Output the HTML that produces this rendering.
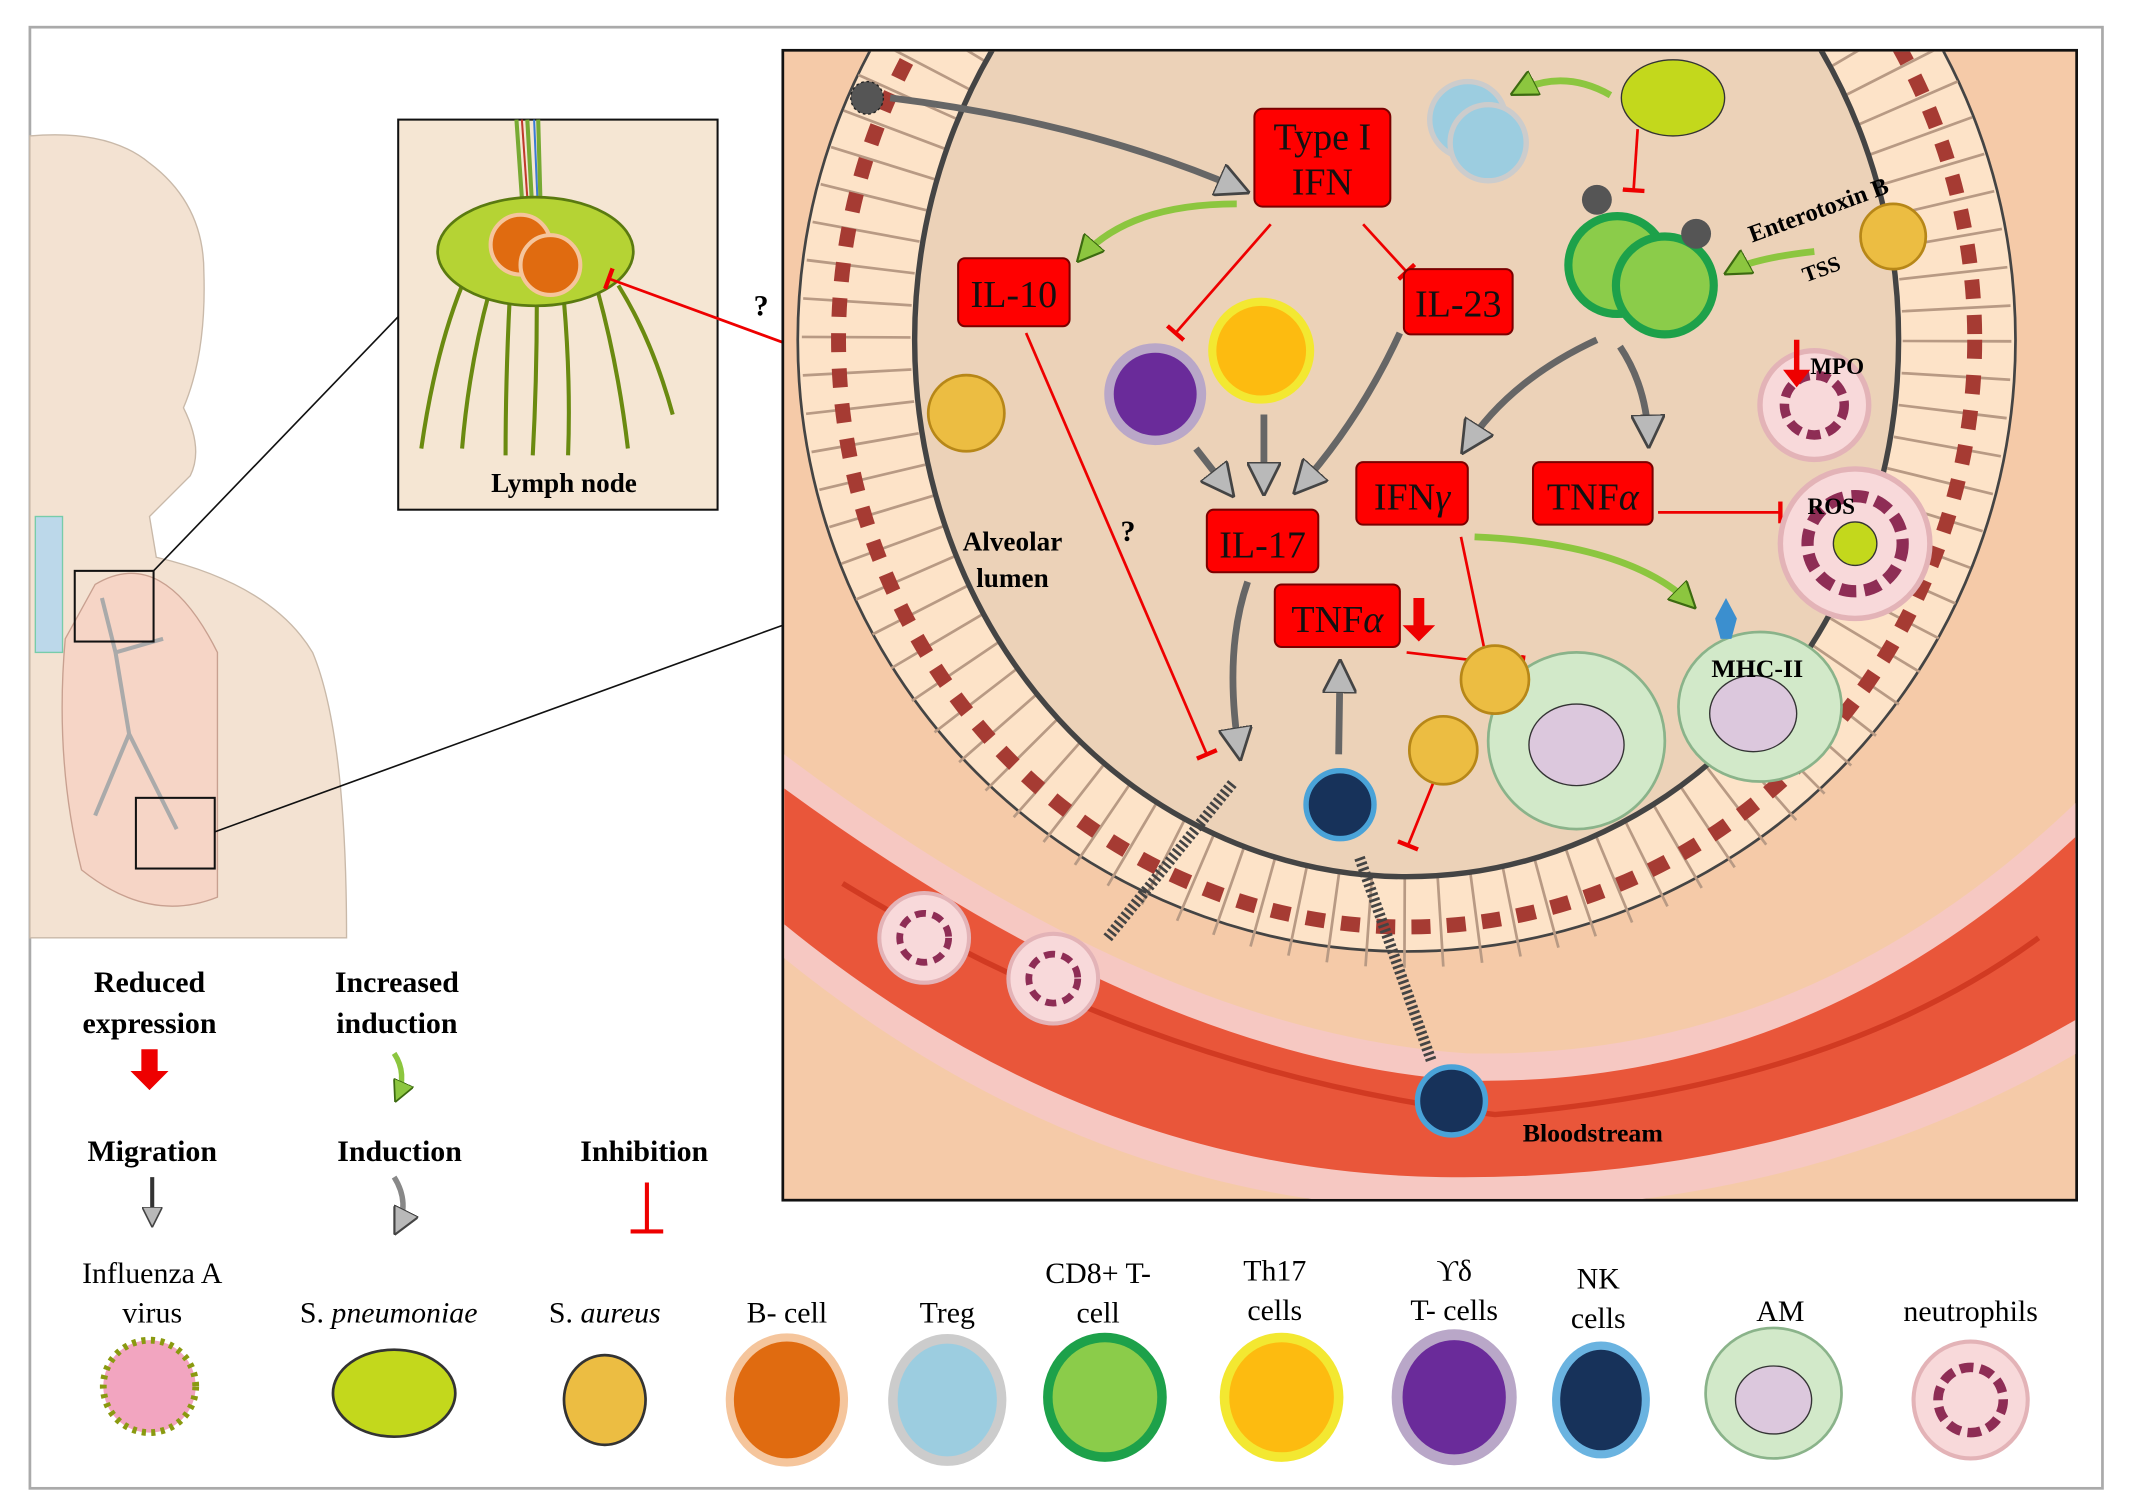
<!DOCTYPE html>
<html><head><meta charset="utf-8"><style>
html,body{margin:0;padding:0;background:#fff;}
svg{display:block;}
text{font-family:"Liberation Serif",serif;}
</style></head><body>
<svg width="2131" height="1506" viewBox="0 0 1568 1108" preserveAspectRatio="none" xmlns="http://www.w3.org/2000/svg">
<defs>
<clipPath id="pc"><rect x="577" y="38" width="950" height="844"/></clipPath>
<marker id="ag" viewBox="0 0 10 10" refX="8" refY="5" markerWidth="5" markerHeight="5" orient="auto"><path d="M0,0L10,5L0,10z" fill="#b9b9b9" stroke="#444" stroke-width="0.8"/></marker>
<marker id="agr" viewBox="0 0 10 10" refX="8" refY="5" markerWidth="4" markerHeight="4" orient="auto"><path d="M0,0L10,5L0,10z" fill="#8cc63f" stroke="#3c6a10" stroke-width="0.8"/></marker>
<marker id="inh" viewBox="0 0 10 10" refX="5" refY="5" markerWidth="8" markerHeight="8" orient="auto"><path d="M5,0L5,10" stroke="#e00" stroke-width="2"/></marker>
</defs>
<rect x="22" y="20" width="1525" height="1075" fill="#fff" stroke="#aaa" stroke-width="2"/>

<!-- human silhouette -->
<path d="M22,100 Q80,95 110,120 Q150,150 150,200 Q152,260 135,300 Q150,330 140,350 Q120,370 110,380 L115,410 Q200,430 230,480 Q255,540 255,690 L22,690 Z" fill="#f3e2d2" stroke="#c9b9a9"/>
<path d="M48,470 Q40,560 60,640 Q110,680 160,660 L160,480 Q120,400 70,430 Z" fill="#f6d5c6" stroke="#c8a090"/>
<rect x="26" y="380" width="20" height="100" fill="#bcd8ea" stroke="#7ca"/>
<path d="M75,440 L85,480 L95,540 M85,480 L120,470 M95,540 L130,610 M95,540 L70,600" stroke="#aaa" stroke-width="3" fill="none"/>
<rect x="55" y="420" width="58" height="52" fill="none" stroke="#111" stroke-width="1.5"/>
<rect x="100" y="587" width="58" height="52" fill="none" stroke="#111" stroke-width="1.5"/>
<line x1="113" y1="420" x2="293" y2="233" stroke="#111" stroke-width="1.2"/>
<line x1="158" y1="612" x2="576" y2="460" stroke="#111" stroke-width="1.2"/>

<!-- lymph node -->
<rect x="293" y="88" width="235" height="287" fill="#f5e6d3" stroke="#111" stroke-width="1.5"/>
<path d="M380,88 L385,160 M388,88 L392,160 M396,88 L398,160" stroke="#7a3" stroke-width="3"/>
<path d="M384,88 L389,160" stroke="#c0392b" stroke-width="1.5"/>
<path d="M393,88 L396,160" stroke="#3a7bd5" stroke-width="1.5"/>
<g stroke="#6a8a10" stroke-width="3" fill="none">
<path d="M340,210 Q320,260 310,330"/><path d="M360,215 Q345,270 340,330"/><path d="M375,220 Q372,280 372,335"/><path d="M395,222 Q395,280 392,335"/><path d="M415,222 Q420,280 418,335"/><path d="M440,215 Q455,270 462,330"/><path d="M455,210 Q480,250 495,305"/>
</g>
<ellipse cx="394" cy="185" rx="72" ry="40" fill="#b5d334" stroke="#5a7a10" stroke-width="2"/>
<circle cx="383" cy="180" r="22" fill="#e06b10" stroke="#f5c59c" stroke-width="3"/>
<circle cx="405" cy="195" r="22" fill="#e06b10" stroke="#f5c59c" stroke-width="3"/>
<text x="415" y="362" font-size="20" font-weight="bold" text-anchor="middle">Lymph node</text>
<text x="560" y="232" font-size="22" font-weight="bold" text-anchor="middle">?</text>
<line x1="680" y1="290" x2="448" y2="205" stroke="#e00" stroke-width="2" marker-end="url(#inh)"/>

<!-- main panel -->
<rect x="576" y="37" width="952" height="846" fill="#f5caa8" stroke="#111" stroke-width="2"/>
<g clip-path="url(#pc)">
<!-- bloodstream -->
<path d="M577,555 Q850,760 1080,775 Q1330,780 1528,590 L1528,775 Q1320,895 1060,890 Q800,885 577,705 Z" fill="#f6c8c2"/>
<path d="M577,580 Q850,780 1080,795 Q1330,800 1528,615 L1528,750 Q1320,870 1060,866 Q800,862 577,680 Z" fill="#e9563a"/>
<path d="M620,650 Q850,790 1100,820 Q1350,800 1500,690" stroke="#d13a22" stroke-width="4" fill="none"/>
<ellipse cx="1035" cy="250" rx="448" ry="450" fill="#fde3c8" stroke="#444" stroke-width="2"/>
<ellipse cx="1035" cy="250" rx="405" ry="422" fill="none" stroke="#b89a84" stroke-width="80" stroke-dasharray="2 24"/>
<ellipse cx="1035" cy="250" rx="418" ry="432" fill="none" stroke="#a63b33" stroke-width="11" stroke-dasharray="14 12"/>
<ellipse cx="1035" cy="250" rx="362" ry="395" fill="#ecd2b8" stroke="#444" stroke-width="4"/>
</g>

<!-- lumen labels -->
<text x="745" y="405" font-size="20" font-weight="bold" text-anchor="middle">Alveolar</text>
<text x="745" y="432" font-size="20" font-weight="bold" text-anchor="middle">lumen</text>
<text x="1172" y="840" font-size="19" font-weight="bold" text-anchor="middle">Bloodstream</text>
<text x="830" y="398" font-size="22" font-weight="bold" text-anchor="middle">?</text>

<!-- arrows grey -->
<g stroke="#666" stroke-width="5" fill="none" marker-end="url(#ag)">
<path d="M655,72 Q800,90 915,140"/>
<path d="M1175,250 Q1110,280 1078,330"/>
<path d="M1192,255 Q1212,285 1213,325"/>
<path d="M1030,245 Q1000,310 955,360"/>
<path d="M930,305 L930,360"/>
<path d="M880,330 L905,362"/>
<path d="M918,428 Q900,480 912,555"/>
<path d="M985,555 L986,490"/>
</g>
<g stroke="#8cc63f" stroke-width="5" fill="none" marker-end="url(#agr)">
<path d="M910,150 Q830,150 795,190"/>
<path d="M1185,70 Q1150,50 1115,68"/>
<path d="M1335,185 Q1290,190 1272,200"/>
<path d="M1085,395 Q1200,400 1245,445"/>
</g>
<!-- migration dashed -->
<g stroke="#444" stroke-width="8" fill="none" stroke-dasharray="2 2">
<path d="M815,690 L908,575"/>
<path d="M1053,780 L1000,630"/>
</g>
<!-- red inhibitions -->
<g stroke="#e00" stroke-width="2" fill="none" marker-end="url(#inh)">
<path d="M935,165 L865,245"/>
<path d="M1003,165 L1035,200"/>
<path d="M755,245 L888,555"/>
<path d="M1220,377 L1310,377"/>
<path d="M1075,395 L1100,515"/>
<path d="M1035,480 L1120,490"/>
<path d="M1055,575 L1036,622"/>
<path d="M1205,95 L1202,140"/>
</g>

<!-- cells -->
<g stroke="#333" stroke-width="1">
<circle cx="1080" cy="88" r="28" fill="#9ccde0" stroke="#ccc" stroke-width="4"/>
<circle cx="1095" cy="105" r="28" fill="#9ccde0" stroke="#ccc" stroke-width="4"/>
<ellipse cx="1231" cy="72" rx="38" ry="28" fill="#c3d81c"/>
<circle cx="1190" cy="195" r="36" fill="#8bcc4a" stroke="#1da14a" stroke-width="6"/>
<circle cx="1225" cy="210" r="36" fill="#8bcc4a" stroke="#1da14a" stroke-width="6"/>
<circle cx="1393" cy="174" r="24" fill="#ecbd42" stroke="#b78718" stroke-width="2"/>
<circle cx="711" cy="304" r="28" fill="#ecbd42" stroke="#b78718" stroke-width="2"/>
<circle cx="850" cy="290" r="34" fill="#6a2b9a" stroke="#b9a7c8" stroke-width="7"/>
<circle cx="928" cy="258" r="36" fill="#fdbb10" stroke="#f3e831" stroke-width="6"/>
<circle cx="1335" cy="298" r="40" fill="#f8d9da" stroke="#e3b3b7" stroke-width="4"/>
<circle cx="1365" cy="400" r="55" fill="#f8d9da" stroke="#e3b3b7" stroke-width="4"/>
<circle cx="1365" cy="400" r="16" fill="#c3d81c"/>
<ellipse cx="1160" cy="545" rx="65" ry="65" fill="#d2e9c9" stroke="#8ab38a" stroke-width="2"/>
<ellipse cx="1160" cy="548" rx="35" ry="30" fill="#dcc8dd"/>
<ellipse cx="1295" cy="520" rx="60" ry="55" fill="#d2e9c9" stroke="#8ab38a" stroke-width="2"/>
<ellipse cx="1290" cy="525" rx="32" ry="28" fill="#dcc8dd"/>
<circle cx="1100" cy="500" r="25" fill="#ecbd42" stroke="#b78718" stroke-width="2"/>
<circle cx="1062" cy="552" r="25" fill="#ecbd42" stroke="#b78718" stroke-width="2"/>
<circle cx="986" cy="592" r="25" fill="#17325a" stroke="#4aa3d8" stroke-width="4"/>
<circle cx="1068" cy="810" r="25" fill="#17325a" stroke="#4aa3d8" stroke-width="4"/>
<circle cx="680" cy="690" r="33" fill="#f8d9da" stroke="#e3b3b7" stroke-width="3"/>
<circle cx="775" cy="720" r="33" fill="#f8d9da" stroke="#e3b3b7" stroke-width="3"/>
</g>
<g fill="#8e2d55">
<circle cx="1335" cy="298" r="22" fill="none" stroke="#8e2d55" stroke-width="7" stroke-dasharray="10 5"/>
<circle cx="1365" cy="400" r="35" fill="none" stroke="#8e2d55" stroke-width="9" stroke-dasharray="12 6"/>
<circle cx="680" cy="690" r="18" fill="none" stroke="#8e2d55" stroke-width="5" stroke-dasharray="8 5"/>
<circle cx="775" cy="720" r="18" fill="none" stroke="#8e2d55" stroke-width="5" stroke-dasharray="8 5"/>
</g>
<circle cx="638" cy="72" r="12" fill="#555" stroke="#222" stroke-dasharray="2 2"/>
<circle cx="1175" cy="147" r="11" fill="#555"/>
<circle cx="1248" cy="172" r="11" fill="#555"/>
<text x="1340" y="160" font-size="18" font-weight="bold" transform="rotate(-20 1340 160)" text-anchor="middle">Enterotoxin B</text>
<text x="1342" y="203" font-size="16" font-weight="bold" transform="rotate(-20 1342 203)" text-anchor="middle">TSS</text>
<path d="M1262,455 L1270,440 L1278,455 L1274,470 L1266,470 Z" fill="#3b8fcf"/>
<path d="M1320,250 L1320,272 L1312,272 L1322,285 L1332,272 L1324,272 L1324,250 Z" fill="#e00"/>
<path d="M1040,440 L1040,460 L1032,460 L1044,472 L1056,460 L1048,460 L1048,440 Z" fill="#e00"/>
<text x="1332" y="275" font-size="17" font-weight="bold">MPO</text>
<text x="1330" y="378" font-size="17" font-weight="bold">ROS</text>
<text x="1293" y="498" font-size="19" font-weight="bold" text-anchor="middle">MHC-II</text>

<!-- cytokine boxes -->
<g fill="#f00" stroke="#7a0000" stroke-width="1.5">
<rect x="923" y="80" width="100" height="72" rx="6"/>
<rect x="705" y="190" width="82" height="50" rx="5"/>
<rect x="1033" y="198" width="80" height="48" rx="5"/>
<rect x="998" y="340" width="82" height="46" rx="5"/>
<rect x="1128" y="340" width="88" height="46" rx="5"/>
<rect x="888" y="375" width="82" height="46" rx="5"/>
<rect x="938" y="430" width="92" height="46" rx="5"/>
</g>
<g font-size="28" fill="#111" text-anchor="middle">
<text x="973" y="110">Type I</text><text x="973" y="143">IFN</text>
<text x="746" y="226">IL-10</text>
<text x="1073" y="233">IL-23</text>
<text x="1039" y="375">IFN<tspan font-style="italic">γ</tspan></text>
<text x="1172" y="375">TNF<tspan font-style="italic">α</tspan></text>
<text x="929" y="410">IL-17</text>
<text x="984" y="465">TNF<tspan font-style="italic">α</tspan></text>
</g>

<!-- legend -->
<g font-size="22" font-weight="bold" text-anchor="middle">
<text x="110" y="730">Reduced</text><text x="110" y="760">expression</text>
<text x="292" y="730">Increased</text><text x="292" y="760">induction</text>
<text x="112" y="854">Migration</text>
<text x="294" y="854">Induction</text>
<text x="474" y="854">Inhibition</text>
</g>
<path d="M104,772 L104,788 L96,788 L110,802 L124,788 L116,788 L116,772 Z" fill="#e00"/>
<path d="M290,775 Q300,790 292,808" stroke="#8cc63f" stroke-width="4" fill="none" marker-end="url(#agr)"/>
<path d="M112,866 L112,900" stroke="#333" stroke-width="3" fill="none" marker-end="url(#ag)"/>
<path d="M290,866 Q302,885 292,905" stroke="#888" stroke-width="4" fill="none" marker-end="url(#ag)"/>
<path d="M476,870 L476,906 M464,906 L488,906" stroke="#e00" stroke-width="3"/>

<g font-size="22" text-anchor="middle">
<text x="112" y="944">Influenza A</text><text x="112" y="973">virus</text>
<text x="286" y="973" font-style="italic"><tspan font-style="normal">S.</tspan> pneumoniae</text>
<text x="445" y="973" font-style="italic"><tspan font-style="normal">S.</tspan> aureus</text>
<text x="579" y="973">B- cell</text>
<text x="697" y="973">Treg</text>
<text x="808" y="944">CD8+ T-</text><text x="808" y="973">cell</text>
<text x="938" y="942">Th17</text><text x="938" y="971">cells</text>
<text x="1070" y="942">ϒδ</text><text x="1070" y="971">T- cells</text>
<text x="1176" y="948">NK</text><text x="1176" y="977">cells</text>
<text x="1310" y="972">AM</text>
<text x="1450" y="972">neutrophils</text>
</g>
<g stroke="#333" stroke-width="1">
<circle cx="110" cy="1020" r="34" fill="#f2a5c0" stroke="#8a9a10" stroke-width="5" stroke-dasharray="3 4"/>
<ellipse cx="290" cy="1025" rx="45" ry="32" fill="#c3d81c" stroke-width="2"/>
<ellipse cx="445" cy="1030" rx="30" ry="33" fill="#ecbd42" stroke-width="2"/>
<ellipse cx="579" cy="1030" rx="42" ry="46" fill="#e06b10" stroke="#f5c59c" stroke-width="6"/>
<ellipse cx="697" cy="1030" rx="40" ry="45" fill="#9ccde0" stroke="#ccc" stroke-width="7"/>
<ellipse cx="813" cy="1028" rx="42" ry="44" fill="#8bcc4a" stroke="#1da14a" stroke-width="7"/>
<ellipse cx="943" cy="1028" rx="42" ry="44" fill="#fdbb10" stroke="#f3e831" stroke-width="7"/>
<ellipse cx="1070" cy="1028" rx="42" ry="46" fill="#6a2b9a" stroke="#b9a7c8" stroke-width="8"/>
<ellipse cx="1178" cy="1030" rx="33" ry="40" fill="#17325a" stroke="#6ab3e0" stroke-width="6"/>
<ellipse cx="1305" cy="1025" rx="50" ry="48" fill="#d2e9c9" stroke="#8ab38a" stroke-width="2"/>
<ellipse cx="1305" cy="1030" rx="28" ry="25" fill="#dcc8dd"/>
<ellipse cx="1450" cy="1030" rx="42" ry="43" fill="#f8d9da" stroke="#e3b3b7" stroke-width="3"/>
</g>
<ellipse cx="1450" cy="1030" rx="24" ry="24" fill="none" stroke="#8e2d55" stroke-width="7" stroke-dasharray="10 5"/>
</svg>
</body></html>
